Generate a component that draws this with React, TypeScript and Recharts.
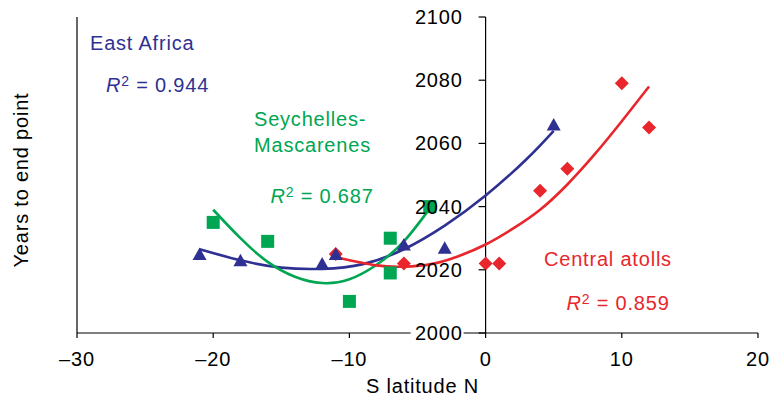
import React from 'react';
import {
  ComposedChart,
  Line,
  Scatter,
  XAxis,
  YAxis,
  ReferenceLine,
  ReferenceDot,
} from 'recharts';

const BLUE = '#2e3192';
const GREEN = '#00a651';
const RED = '#e8262b';
const FONT = '"Liberation Sans", Arial, Helvetica, sans-serif';

const xTicks = [-30, -20, -10, 0, 10, 20];
const yTicks = [2000, 2020, 2040, 2060, 2080, 2100];

// sites (latitude, year the end point is reached)
const eastAfricaLat = [-21, -18, -12, -11, -6, -3, 5];
const eastAfricaYear = [2025, 2023, 2022, 2025, 2028, 2027, 2066];
const seychellesLat = [-20, -16, -10, -7, -7, -4.1];
const seychellesYear = [2035, 2029, 2010, 2030, 2019, 2040];
const atollsLat = [-11, -6, 0, 1, 4, 6, 10, 12];
const atollsYear = [2025, 2022, 2022, 2022, 2045, 2052, 2079, 2065];

// fitted curves
const eastAfricaFitLat = [-21, -18, -15, -12, -9, -6, -3, 0, 3, 5];
const eastAfricaFitYear = [2026.5, 2023, 2020.7, 2020.3, 2021.8, 2026.5, 2034, 2043.5, 2055, 2064];
const seychellesFitLat = [-20, -18, -16, -14, -12, -10, -8, -6, -4];
const seychellesFitYear = [2039, 2030, 2022.5, 2017.8, 2015.8, 2017, 2021.6, 2029, 2040];
const atollsFitLat = [-11, -8, -6, -4, -2, 0, 2, 4, 6, 8, 10, 12];
const atollsFitYear = [2024, 2021.4, 2021, 2021.8, 2024.3, 2028, 2033, 2039, 2047, 2056.5, 2067, 2078];

const pts = (xs: number[], ys: number[]) => xs.map((x, i) => ({ x, y: ys[i] }));

const Triangle = (p: any) => (
  <polygon
    points={`${p.cx - 7},${p.cy + 6} ${p.cx + 7},${p.cy + 6} ${p.cx},${p.cy - 6.5}`}
    fill={BLUE}
  />
);
const Square = (p: any) => <rect x={p.cx - 6.5} y={p.cy - 6.5} width={13} height={13} fill={GREEN} />;
const Diamond = (p: any) => (
  <polygon
    points={`${p.cx},${p.cy - 7} ${p.cx + 7},${p.cy} ${p.cx},${p.cy + 7} ${p.cx - 7},${p.cy}`}
    fill={RED}
  />
);

function YTickMark({ cx, cy, value }: { cx: number; cy: number; value: number }) {
  const bottom = value === yTicks[0];
  return (
    <g>
      <line x1={cx - 7} y1={cy} x2={cx} y2={cy} stroke="#000" strokeWidth={1.2} />
      {bottom && <rect x={cx - 75} y={cy - 8} width={53} height={16} fill="#fff" />}
      <text x={cx - 23} y={cy + 7} textAnchor="end" fontSize={20} fill="#000">
        {value}
      </text>
    </g>
  );
}

const fmtX = (v: number) => (v < 0 ? `\u2013${-v}` : `${v}`);

function R2({ x, y, value, color }: { x: number; y: number; value: string; color: string }) {
  return (
    <text x={x} y={y} fill={color} fontSize={20}>
      <tspan fontStyle="italic">R</tspan>
      <tspan fontSize={14} dy={-6}>2</tspan>
      <tspan dy={6}>{` = ${value}`}</tspan>
    </text>
  );
}

export default function App() {
  return (
    <div
      style={{
        position: 'fixed',
        left: 0,
        top: 0,
        width: 772,
        height: 396,
        background: '#fff',
        fontFamily: FONT,
        letterSpacing: '0.8px',
      }}
    >
      <ComposedChart width={772} height={396} margin={{ top: 17, right: 14, left: 0, bottom: 0 }}>
        <XAxis
          type="number"
          dataKey="x"
          domain={[-30, 20]}
          ticks={xTicks}
          interval={0}
          tickFormatter={fmtX}
          tick={{ fill: '#000', fontSize: 20 }}
          tickSize={5}
          tickMargin={14}
          height={63}
          stroke="#000"
          strokeWidth={1.2}
          label={{
            content: (p: any) => {
              const vb = p.viewBox;
              return (
                <text x={vb.x + vb.width / 2 + 5} y={vb.y + vb.height - 3} textAnchor="middle" fontSize={20} fill="#000">
                  S latitude N
                </text>
              );
            },
          }}
        />
        <YAxis
          type="number"
          dataKey="y"
          domain={[2000, 2100]}
          ticks={yTicks}
          tick={false}
          tickLine={false}
          width={77}
          stroke="#000"
          strokeWidth={1.2}
          label={{
            content: (p: any) => {
              const vb = p.viewBox;
              const lx = vb.x + 28;
              const ly = vb.y + vb.height / 2 + 5;
              return (
                <text x={lx} y={ly} transform={`rotate(-90, ${lx}, ${ly})`} textAnchor="middle" fontSize={20} fill="#000">
                  Years to end point
                </text>
              );
            },
          }}
        />
        <ReferenceLine x={0} stroke="#000" strokeWidth={1.2} />

        <Line data={pts(eastAfricaFitLat, eastAfricaFitYear)} dataKey="y" type="natural" stroke={BLUE} strokeWidth={2.6} dot={false} isAnimationActive={false} />
        <Line data={pts(seychellesFitLat, seychellesFitYear)} dataKey="y" type="natural" stroke={GREEN} strokeWidth={2.6} dot={false} isAnimationActive={false} />
        <Line data={pts(atollsFitLat, atollsFitYear)} dataKey="y" type="natural" stroke={RED} strokeWidth={2.6} dot={false} isAnimationActive={false} />

        <Scatter data={pts(seychellesLat, seychellesYear)} shape={Square} isAnimationActive={false} />
        <Scatter data={pts(atollsLat, atollsYear)} shape={Diamond} isAnimationActive={false} />
        <Scatter data={pts(eastAfricaLat, eastAfricaYear)} shape={Triangle} isAnimationActive={false} />

        {yTicks.map(v => (
          <ReferenceDot
            key={v}
            x={0}
            y={v}
            shape={(p: any) => <YTickMark cx={p.cx} cy={p.cy} value={v} />}
          />
        ))}
      </ComposedChart>

      <svg width={772} height={396} style={{ position: 'absolute', left: 0, top: 0, pointerEvents: 'none' }}>
        <text x={90} y={49.5} fill={BLUE} fontSize={20}>East Africa</text>
        <R2 x={106} y={92} value="0.944" color={BLUE} />
        <text x={254} y={126} fill={GREEN} fontSize={20}>Seychelles-</text>
        <text x={254} y={151.5} fill={GREEN} fontSize={20}>Mascarenes</text>
        <R2 x={270.5} y={203} value="0.687" color={GREEN} />
        <text x={544} y={265.5} fill={RED} fontSize={20}>Central atolls</text>
        <R2 x={566.5} y={310} value="0.859" color={RED} />
      </svg>
    </div>
  );
}
